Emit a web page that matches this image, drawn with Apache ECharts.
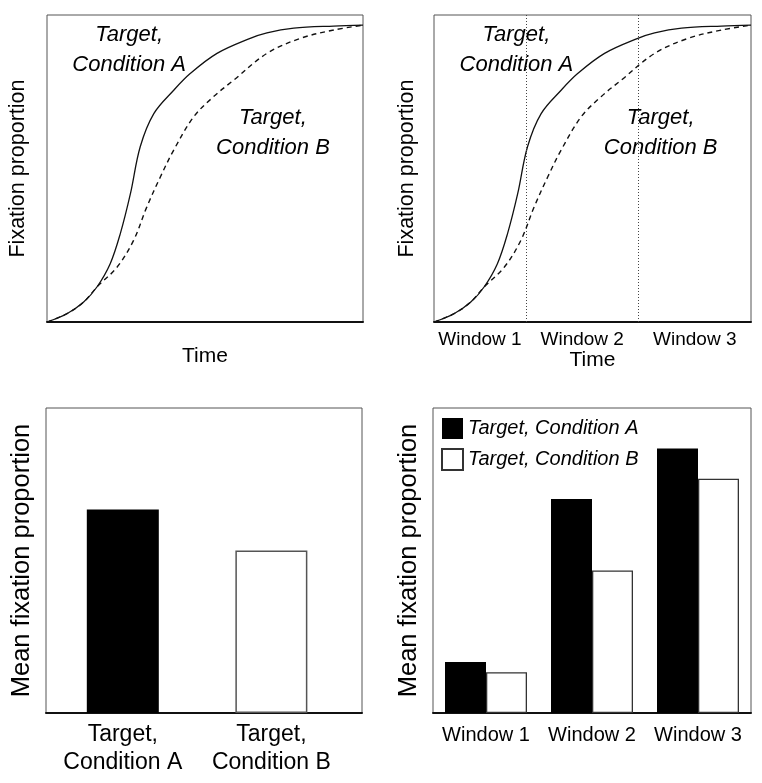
<!DOCTYPE html>
<html><head><meta charset="utf-8">
<script src="https://cdn.jsdelivr.net/npm/echarts@6/dist/echarts.min.js"></script>
<style>html,body{margin:0;padding:0;background:#fff}#c{width:762px;height:783px}</style>
</head><body><div id="c"></div>
<script>
// ---- data ----
const timeA = [0, 6.3, 11.6, 15.8, 20, 23.2, 26.4, 29.5, 33.8, 40.1, 45.4, 53.8, 64.3, 69.6, 78.1, 90.7, 100];
const propA = [0, 0.027, 0.065, 0.114, 0.19, 0.288, 0.418, 0.571, 0.679, 0.755, 0.81, 0.875, 0.924, 0.942, 0.957, 0.964, 0.967];
const timeB = [0, 6.3, 11.6, 15.8, 22.2, 27.4, 31.6, 35.9, 40.1, 46.4, 52.7, 59.1, 69.6, 80.2, 90.7, 100];
const propB = [0, 0.027, 0.065, 0.114, 0.179, 0.266, 0.375, 0.473, 0.56, 0.668, 0.734, 0.788, 0.875, 0.924, 0.951, 0.967];
const windowBounds = [29, 64.5];
const windowNames = ['Window 1', 'Window 2', 'Window 3'];
const condNames = ['Target,\nCondition A', 'Target,\nCondition B'];
const condPositions = [1, 2];
const condMeans = [0.667, 0.533];
const seriesNames = ['Target, Condition A', 'Target, Condition B'];
const windowMeansA = [0.167, 0.702, 0.867];
const windowMeansB = [0.134, 0.467, 0.768];
const annotA = [26, 0.886];
const annotB = [71.5, 0.617];

// ---- build ----
const FONT = 'Liberation Sans, Arial, sans-serif';
const pairs = (xs, ys) => xs.map((x, i) => [x, ys[i]]);
const tStart = 0, tEnd = 100;
const edges = [tStart, ...windowBounds, tEnd];
const windowCenters = windowNames.map((_, i) => (edges[i] + edges[i + 1]) / 2);

const gridBase = { show: true, borderColor: '#555', borderWidth: 1, containLabel: false };
const grids = [
  Object.assign({ left: 47, top: 15, width: 316, height: 307 }, gridBase),
  Object.assign({ left: 434, top: 15, width: 317, height: 307 }, gridBase),
  Object.assign({ left: 46, top: 408, width: 316, height: 305 }, gridBase),
  Object.assign({ left: 433, top: 408, width: 318, height: 305 }, gridBase)
];
const axisLineX = { show: true, onZero: false, lineStyle: { color: '#111', width: 2 } };
function yAx(gi, name, size, gap) {
  return { type: 'value', gridIndex: gi, min: 0, max: 1, name: name, nameLocation: 'middle', nameGap: gap,
    nameTextStyle: { fontFamily: FONT, fontSize: size, color: '#000' },
    axisLine: { show: false }, axisTick: { show: false }, axisLabel: { show: false }, splitLine: { show: false } };
}
const annotLabel = (txt) => ({
  show: true, position: 'inside', formatter: txt, fontFamily: FONT, fontStyle: 'italic',
  fontSize: 22, lineHeight: 30, color: '#000'
});
function curveSeries(gi, withWindows) {
  const s = [
    { type: 'line', name: 'Curve A', xAxisIndex: gi, yAxisIndex: gi, data: pairs(timeA, propA),
      smooth: 0.35, symbol: 'none', lineStyle: { color: '#111', width: 1.3 },
      markPoint: { symbol: 'circle', symbolSize: 0, data: [{ coord: annotA, label: annotLabel('Target,\nCondition A') }] } },
    { type: 'line', name: 'Curve B', xAxisIndex: gi, yAxisIndex: gi, data: pairs(timeB, propB),
      smooth: 0.35, symbol: 'none', lineStyle: { color: '#111', width: 1.4, type: [5, 4] },
      markPoint: { symbol: 'circle', symbolSize: 0, data: [{ coord: annotB, label: annotLabel('Target,\nCondition B') }] } }
  ];
  if (withWindows) {
    s[0].markLine = { silent: true, symbol: 'none', label: { show: false },
      lineStyle: { color: '#444', width: 1, type: [1, 2] },
      data: windowBounds.map(v => ({ xAxis: v })) };
  }
  return s;
}

const option = {
  animation: false,
  backgroundColor: '#fff',
  grid: grids,
  legend: {
    data: seriesNames, orient: 'vertical', left: 441, top: 418, padding: 0, itemWidth: 21, itemHeight: 21, itemGap: 9,
    icon: 'rect', selectedMode: false,
    textStyle: { fontFamily: FONT, fontStyle: 'italic', fontSize: 20, color: '#000' }
  },
  xAxis: [
    { type: 'value', gridIndex: 0, min: tStart, max: tEnd, name: 'Time', nameLocation: 'middle', nameGap: 24,
      nameTextStyle: { fontFamily: FONT, fontSize: 21, color: '#000' },
      axisLine: axisLineX, axisTick: { show: false }, axisLabel: { show: false }, splitLine: { show: false } },
    { type: 'value', gridIndex: 1, min: tStart, max: tEnd, name: 'Time', nameLocation: 'middle', nameGap: 27,
      nameTextStyle: { fontFamily: FONT, fontSize: 21, color: '#000' },
      axisLine: axisLineX, axisTick: { show: false }, splitLine: { show: false },
      axisLabel: { show: true, customValues: windowCenters, margin: 8, fontFamily: FONT, fontSize: 19, color: '#000',
        formatter: v => windowNames[windowCenters.indexOf(v)] } },
    { type: 'value', gridIndex: 2, min: 0.483, max: 2.61, axisLine: axisLineX, axisTick: { show: false }, splitLine: { show: false },
      axisLabel: { show: true, customValues: condPositions, margin: 8, fontFamily: FONT, fontSize: 23, lineHeight: 28, color: '#000',
        formatter: v => condNames[condPositions.indexOf(v)] } },
    { type: 'category', gridIndex: 3, data: windowNames, axisLine: axisLineX, axisTick: { show: false },
      axisLabel: { interval: 0, hideOverlap: false, margin: 12, fontFamily: FONT, fontSize: 20, color: '#000' } }
  ],
  yAxis: [
    yAx(0, 'Fixation proportion', 21.5, 18),
    yAx(1, 'Fixation proportion', 21.5, 16),
    yAx(2, 'Mean fixation proportion', 25.5, 11),
    yAx(3, 'Mean fixation proportion', 25.5, 11)
  ],
  series: [
    ...curveSeries(0, false),
    ...curveSeries(1, true),
    { type: 'bar', name: 'Mean', xAxisIndex: 2, yAxisIndex: 2, barWidth: 72,
      data: condPositions.map((p, i) => ({ value: [p, condMeans[i]],
        itemStyle: i === 0 ? { color: '#000' } : { color: '#fff', borderColor: '#555', borderWidth: 1.5 } })) },
    { type: 'bar', name: seriesNames[0], xAxisIndex: 3, yAxisIndex: 3, data: windowMeansA, barWidth: 41, barGap: '0%',
      itemStyle: { color: '#000' } },
    { type: 'bar', name: seriesNames[1], xAxisIndex: 3, yAxisIndex: 3, data: windowMeansB, barWidth: 41, barGap: '0%',
      itemStyle: { color: '#fff', borderColor: '#333', borderWidth: 1.3 } }
  ]
};
const chart = echarts.init(document.getElementById('c'), null, { renderer: 'canvas' });
chart.setOption(option);
</script></body></html>
